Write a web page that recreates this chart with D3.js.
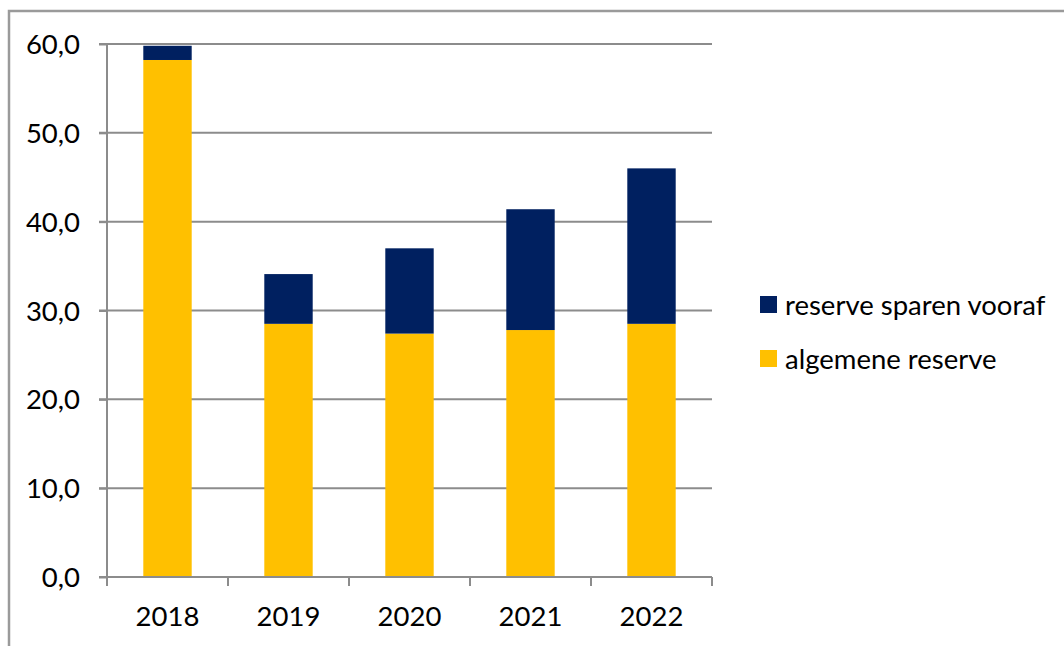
<!DOCTYPE html>
<html><head><meta charset="utf-8">
<script src="https://cdn.jsdelivr.net/npm/d3@7"></script>
<style>body{margin:0;background:#fff}svg{display:block}text{font-family:Lato,"Open Sans",sans-serif;fill:#000}</style>
</head><body><svg id="c" width="1064" height="646"></svg>
<script>
const categories = ["2018","2019","2020","2021","2022"];
const algemeneReserve = [58.2, 28.5, 27.4, 27.8, 28.5];
const reserveSparenVooraf = [1.6, 5.6, 9.6, 13.6, 17.5];
const seriesNames = ["algemene reserve","reserve sparen vooraf"];
const yTicks = [0,10,20,30,40,50,60];
const colors = {"algemene reserve":"#FFC000","reserve sparen vooraf":"#002060"};

const svg = d3.select("#c");
const M = {left:107, right:712, top:44, bottom:577};
const gridColor = "#8c8c8c";
const FS = 27.5;

svg.append("rect").attr("x",9).attr("y",11).attr("width",1100).attr("height",700)
  .attr("fill","none").attr("stroke","#9a9a9a").attr("stroke-width",2.5);

const x = d3.scaleBand().domain(categories).range([M.left,M.right]).paddingInner(0.6).paddingOuter(0.3);
const y = d3.scaleLinear().domain([0,60]).range([M.bottom,M.top]);

// gridlines
svg.append("g").selectAll("line").data(yTicks.filter(d=>d>0)).join("line")
  .attr("x1",M.left-8).attr("x2",M.right).attr("y1",d=>y(d)).attr("y2",d=>y(d))
  .attr("stroke",gridColor).attr("stroke-width",2);

const rows = categories.map((c,i)=>({cat:c,"algemene reserve":algemeneReserve[i],"reserve sparen vooraf":reserveSparenVooraf[i]}));
const stack = d3.stack().keys(seriesNames)(rows);
svg.append("g").selectAll("g").data(stack).join("g").attr("fill",d=>colors[d.key])
  .selectAll("rect").data(d=>d).join("rect")
  .attr("x",d=>x(d.data.cat)).attr("width",x.bandwidth())
  .attr("y",d=>y(d[1])).attr("height",d=>y(d[0])-y(d[1]));

// y axis
const ya = svg.append("g").attr("transform",`translate(${M.left},0)`)
  .call(d3.axisLeft(y).tickValues(yTicks).tickSize(8).tickPadding(19).tickFormat(d=>d3.format(".1f")(d).replace(".",",")));
ya.select(".domain").attr("stroke",gridColor).attr("stroke-width",2).attr("d",`M0,${M.top}V${M.bottom}`);
ya.selectAll(".tick line").attr("stroke",gridColor).attr("stroke-width",2);
ya.selectAll("text").attr("font-size",FS).attr("font-family","Lato").attr("dy","0.35em");

// x axis
const xa = svg.append("g").attr("transform",`translate(0,${M.bottom})`)
  .call(d3.axisBottom(x).tickSize(0).tickPadding(29));
xa.select(".domain").attr("stroke",gridColor).attr("stroke-width",2).attr("d",`M${M.left-8},0H${M.right}`);
xa.selectAll("text").attr("font-size",FS).attr("font-family","Lato");
svg.append("g").selectAll("line").data(d3.range(categories.length+1)).join("line")
  .attr("x1",i=>M.left+i*(M.right-M.left)/categories.length).attr("x2",i=>M.left+i*(M.right-M.left)/categories.length)
  .attr("y1",M.bottom).attr("y2",M.bottom+9).attr("stroke",gridColor).attr("stroke-width",2);

// legend
const legendItems = ["reserve sparen vooraf","algemene reserve"];
const lg = svg.append("g").selectAll("g").data(legendItems).join("g")
  .attr("transform",(d,i)=>`translate(760,${296+i*54})`);
lg.append("rect").attr("width",17).attr("height",17).attr("fill",d=>colors[d]);
lg.append("text").attr("x",25).attr("y",9).attr("dy","0.35em").attr("font-size",FS).text(d=>d);
</script></body></html>
